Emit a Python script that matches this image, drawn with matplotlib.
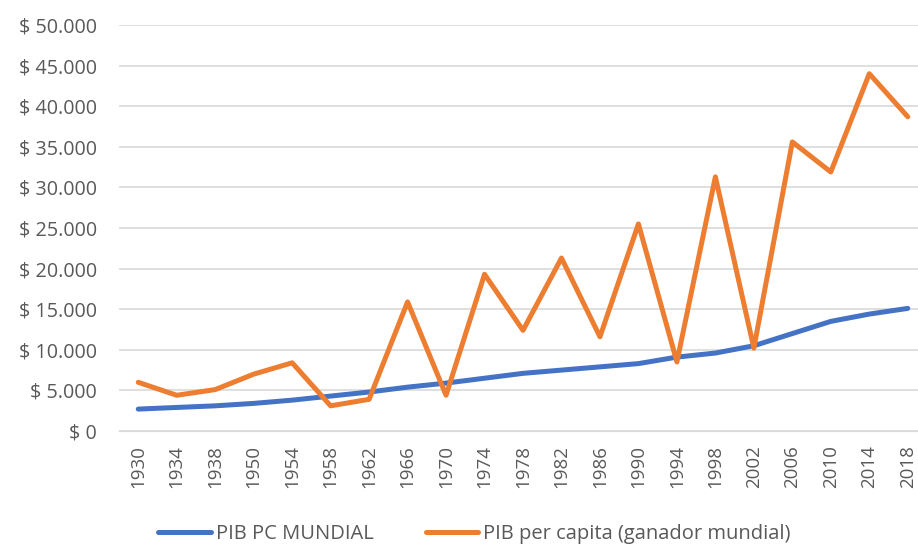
import matplotlib
matplotlib.use("Agg")
import matplotlib.pyplot as plt
from matplotlib.ticker import FuncFormatter

years = ["1930", "1934", "1938", "1950", "1954", "1958", "1962", "1966", "1970", "1974", "1978",
         "1982", "1986", "1990", "1994", "1998", "2002", "2006", "2010", "2014", "2018"]
pib_mundial = [2700, 2900, 3100, 3400, 3800, 4300, 4800, 5400, 5900, 6500, 7100,
               7500, 7900, 8300, 9100, 9600, 10500, 12000, 13500, 14400, 15100]
pib_ganador = [6000, 4400, 5100, 7000, 8400, 3100, 3900, 15900, 4400, 19300, 12400,
               21300, 11600, 25500, 8500, 31300, 10200, 35600, 31900, 44000, 38700]

plt.rcParams['font.family'] = ['Open Sans', 'DejaVu Sans']

fig = plt.figure(figsize=(9.18, 5.44), dpi=100)
ax = fig.add_axes([119/918, 1 - 431/544, (927 - 119)/918, (431 - 25)/544])

x = list(range(len(years)))
ax.plot(x, pib_mundial, color="#4472C4", lw=3.6, label="PIB PC MUNDIAL",
        solid_capstyle="round", solid_joinstyle="round")
ax.plot(x, pib_ganador, color="#ED7D31", lw=3.6, label="PIB per capita (ganador mundial)",
        solid_capstyle="round", solid_joinstyle="round")

ax.set_ylim(0, 50000)
ax.set_yticks(range(0, 50001, 5000))
ax.yaxis.set_major_formatter(FuncFormatter(lambda v, p: "$ " + f"{int(v):,}".replace(",", ".")))
ax.set_xlim(-0.5, len(years) - 0.5)
ax.set_xticks(x)
ax.set_xticklabels(years, rotation=90)
ax.grid(axis="y", color="#D9D9D9", lw=1.2)
ax.set_axisbelow(True)
for s in ["top", "right", "left"]:
    ax.spines[s].set_visible(False)
ax.spines["bottom"].set_color("#D9D9D9")
ax.tick_params(axis="y", length=0, colors="#595959", labelsize=14.2, pad=16)
ax.tick_params(axis="x", length=0, colors="#595959", labelsize=13.5, pad=10)

fig.legend(loc="center", bbox_to_anchor=(0.517, 1 - 534/544), ncol=2, frameon=False,
           fontsize=14.5, handlelength=2.6, columnspacing=2.6, handletextpad=0.25,
           labelcolor="#595959")

fig.savefig("out.png", dpi=100)
